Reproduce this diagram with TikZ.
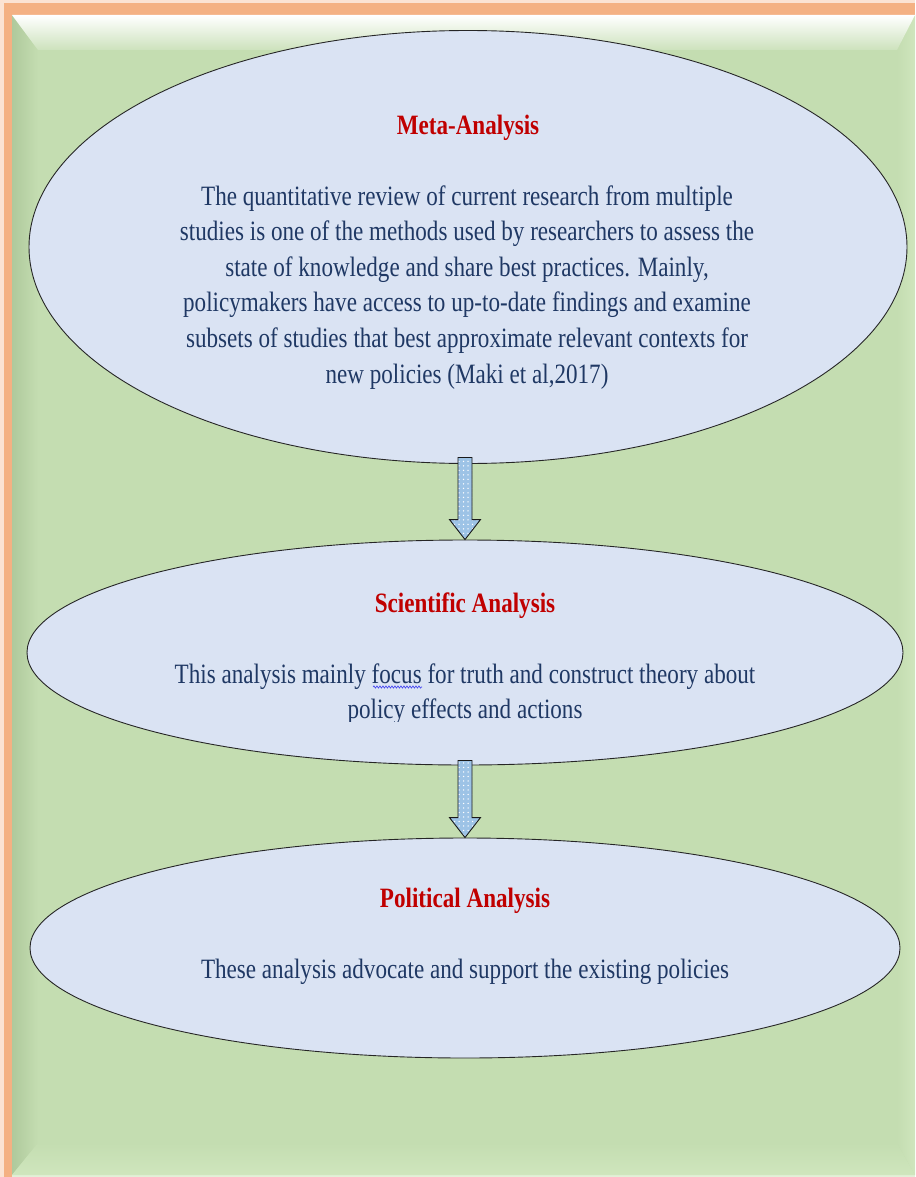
\documentclass[tikz,border=0pt]{standalone}
\usepackage{fontspec}
\setmainfont[FakeStretch=0.825]{Liberation Serif}
\usetikzlibrary{shapes.geometric,calc,patterns.meta,decorations.pathmorphing}
\definecolor{frameor}{HTML}{F4B183}
\definecolor{framefade}{HTML}{FBE3D3}
\definecolor{panel}{HTML}{C4DDB1}
\definecolor{paneldark}{HTML}{AFC99C}
\definecolor{panellight}{HTML}{CFE6BD}
\definecolor{bubblefill}{HTML}{DAE3F3}
\definecolor{textnavy}{HTML}{1F3864}
\definecolor{titlered}{HTML}{C00000}
\definecolor{arrowblue}{HTML}{9DC3E6}
\definecolor{wavyblue}{HTML}{3A3AF0}
\begin{document}
\begin{tikzpicture}[x=1pt,y=-1pt,
  bubble/.style={ellipse, draw=black!85, line width=0.9pt, fill=bubblefill, inner sep=0pt},
  titletext/.style={font=\fontsize{28}{34}\selectfont\bfseries, text=titlered, inner sep=0pt},
  bodytext/.style={font=\fontsize{28}{35.6}\selectfont, text=textnavy, align=center, inner sep=0pt},
  blockarrow/.style={preaction={fill=arrowblue}, pattern={Dots[distance=4.5pt, radius=0.75pt]}, pattern color=white, draw=black!90, line width=0.9pt, line join=miter},
  spellwave/.style={draw=wavyblue, line width=0.6pt, decorate, decoration={snake, amplitude=1.1pt, segment length=3pt}}
]
\useasboundingbox (0,0) rectangle (915,1177);
% frame
\fill[framefade] (0,0) rectangle (915,1177);
\fill[frameor] (4,3) rectangle (915,1177);
\fill[panel] (12,15) rectangle (915,1175);
\fill[panellight!60!white] (12,1175) rectangle (915,1177);
\shade[left color=paneldark, right color=panel] (12,15) -- (38,50) -- (38,1143) -- (12,1175) -- cycle;
\shade[left color=panel, right color=panellight] (915,15) -- (897,50) -- (897,1143) -- (915,1175) -- cycle;
\shade[top color=white, bottom color=panel!85!white] (12,15) -- (915,15) -- (897,50) -- (38,50) -- cycle;
\shade[top color=panel, bottom color=panellight] (12,1175) -- (38,1143) -- (897,1143) -- (915,1175) -- cycle;

% ellipses
\node[bubble, minimum width=878pt, minimum height=433pt] (e1) at (468,247) {};
\node[bubble, minimum width=876pt, minimum height=225pt] (e2) at (465,652.5) {};
\node[bubble, minimum width=870pt, minimum height=220pt] (e3) at (465,948) {};

% arrows
\coordinate (a1s) at ($(e2.north |- e1.south)+(0,-6.5)$);
\coordinate (a1t) at (e2.north);
\draw[blockarrow] ($(a1s)+(-7,0)$) -- ($(a1s)+(7,0)$) -- ($(a1t)+(7,-20)$) -- ($(a1t)+(15.5,-20)$) -- (a1t) -- ($(a1t)+(-15.5,-20)$) -- ($(a1t)+(-7,-20)$) -- cycle;
\coordinate (a2s) at ($(e3.north |- e2.south)+(0,-5)$);
\coordinate (a2t) at (e3.north);
\draw[blockarrow] ($(a2s)+(-7,0)$) -- ($(a2s)+(7,0)$) -- ($(a2t)+(7,-20)$) -- ($(a2t)+(15.5,-20)$) -- (a2t) -- ($(a2t)+(-15.5,-20)$) -- ($(a2t)+(-7,-20)$) -- cycle;

% texts
\node[titletext, anchor=base] (t1) at (468,135) {Meta-Analysis};
\node[bodytext] (b1) at (467,287.3) {The quantitative review of current research from multiple\\
studies is one of the methods used by researchers to assess the\\
state of knowledge and share best practices. Mainly,\\
policymakers have access to up-to-date findings and examine\\
subsets of studies that best approximate relevant contexts for\\
new policies (Maki et al,2017)};

\node[titletext, anchor=base] (t2) at (465,612) {Scientific Analysis};
\begin{scope}
\clip (0,0) rectangle (915,721.5);
\node[bodytext] (b2) at (465,694.3) {This analysis mainly focus for truth and construct theory about\\
policy effects and actions};
\end{scope}
\coordinate (w1) at (373,687);
\coordinate (w2) at (422,687);
\draw[spellwave] (w1) -- (w2);

\node[titletext, anchor=base] (t3) at (465,907) {Political Analysis};
\node[bodytext, anchor=base] (b3) at (465,978) {These analysis advocate and support the existing policies};
\end{tikzpicture}
\end{document}
